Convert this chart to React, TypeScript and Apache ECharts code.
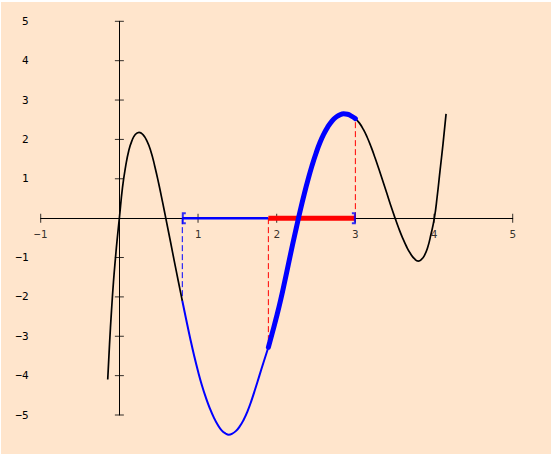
import React, { useEffect, useRef } from 'react';
import * as echarts from 'echarts';

// Points (x, y)
const curveX = [
  -0.148, -0.125, -0.1, -0.075, -0.05, -0.025, 0, 0.04, 0.08, 0.12, 0.16, 0.2, 0.25, 0.3, 0.35, 0.4,
  0.45, 0.5, 0.55, 0.59, 0.65, 0.7, 0.75, 0.8,
  0.85, 0.9, 0.95, 1.0, 1.05, 1.1, 1.15, 1.2, 1.25, 1.3, 1.35, 1.39, 1.43, 1.48, 1.53, 1.58, 1.63,
  1.68, 1.73, 1.78, 1.83, 1.894,
  1.95, 2.0, 2.05, 2.1, 2.15, 2.2, 2.25, 2.3, 2.35, 2.4, 2.45, 2.5, 2.55, 2.6, 2.65, 2.7, 2.75, 2.8,
  2.85, 2.9, 2.95, 3.0,
  3.05, 3.1, 3.15, 3.2, 3.25, 3.3, 3.35, 3.4, 3.45, 3.505, 3.55, 3.6, 3.65, 3.7, 3.75, 3.8, 3.84,
  3.88, 3.92, 3.96, 4.004, 4.04, 4.077, 4.115, 4.153,
];
const curveY = [
  -4.1, -3.2, -2.35, -1.62, -1.02, -0.48, 0, 0.78, 1.32, 1.72, 1.97, 2.12, 2.18, 2.12, 1.96, 1.7,
  1.32, 0.88, 0.4, 0, -0.6, -1.11, -1.61, -2.1,
  -2.58, -3.05, -3.49, -3.89, -4.25, -4.56, -4.83, -5.06, -5.25, -5.39, -5.47, -5.5, -5.48, -5.41, -5.29, -5.12, -4.9,
  -4.63, -4.32, -4.0, -3.68, -3.28,
  -2.87, -2.49, -2.08, -1.63, -1.16, -0.69, -0.24, 0.2, 0.61, 0.99, 1.34, 1.65, 1.92, 2.14, 2.32, 2.46, 2.56, 2.62,
  2.65, 2.64, 2.59, 2.53,
  2.42, 2.26, 2.055, 1.81, 1.535, 1.24, 0.935, 0.63, 0.32, 0, -0.25, -0.5, -0.72, -0.9, -1.03, -1.09, -1.05,
  -0.94, -0.74, -0.42, 0, 0.55, 1.22, 1.9, 2.65,
];

const intervalStart = 0.8;
const intervalSplit = 1.894;
const intervalEnd = 3.0;
const curveAtStart = -2.1;
const curveAtSplit = -3.28;
const curveAtEnd = 2.53;

const xTicks = [-1, 1, 2, 3, 4, 5];
const xTickLabels = ['−1', '1', '2', '3', '4', '5'];
const yTicks = [-5, -4, -3, -2, -1, 1, 2, 3, 4, 5];
const yTickLabels = ['−5', '−4', '−3', '−2', '−1', '1', '2', '3', '4', '5'];

const FONT = '"DejaVu Sans Mono", monospace';

export default function App() {
  const ref = useRef<HTMLDivElement>(null);

  useEffect(() => {
    if (!ref.current) return;
    const chart = echarts.init(ref.current, null, { renderer: 'svg' });
    const pts = curveX.map((x, i) => [x, curveY[i]]);
    const black1 = pts.filter((p) => p[0] <= intervalStart);
    const blueThin = pts.filter((p) => p[0] >= intervalStart && p[0] <= intervalSplit);
    const blueThick = pts.filter((p) => p[0] >= intervalSplit && p[0] <= intervalEnd);
    const black2 = pts.filter((p) => p[0] >= intervalEnd);

    const lineBase = { type: 'line', showSymbol: false, symbol: 'none', silent: true, clip: false };
    const SM = 0.5;

    chart.setOption({
      animation: false,
      backgroundColor: '#ffffff',
      graphic: [
        {
          type: 'rect',
          left: 1,
          top: 2,
          shape: { width: 550, height: 452 },
          style: { fill: '#FFE5CC' },
          z: -10,
          silent: true,
        },
      ],
      grid: {
        left: 40.7,
        right: 42.3,
        top: 21.3,
        bottom: 42,
        containLabel: false,
        outerBoundsMode: 'none',
      },
      xAxis: {
        type: 'value',
        min: -1,
        max: 5,
        interval: 1,
        axisLine: { show: true, onZero: true, lineStyle: { color: '#000', width: 1 } },
        axisTick: { show: false },
        splitLine: { show: false },
        axisLabel: { show: false },
      },
      yAxis: {
        type: 'value',
        min: -5,
        max: 5,
        interval: 1,
        axisLine: { show: true, onZero: true, lineStyle: { color: '#000', width: 1 } },
        axisTick: { show: false },
        splitLine: { show: false },
        axisLabel: {
          show: true,
          margin: 12,
          color: '#000',
          fontSize: 11,
          fontFamily: FONT,
          showMinLabel: true,
          showMaxLabel: true,
          formatter: (v: number) => {
            const i = yTicks.indexOf(Math.round(v));
            return i >= 0 ? yTickLabels[i] : '';
          },
        },
      },
      series: [
        {
          type: 'scatter',
          silent: true,
          symbol: 'rect',
          symbolSize: [1, 9],
          itemStyle: { color: '#000' },
          data: xTicks.map((v) => [v, 0]),
          label: {
            show: true,
            position: 'bottom',
            distance: 6,
            color: '#000',
            fontSize: 11,
            fontFamily: FONT,
            formatter: (p: any) => xTickLabels[p.dataIndex],
          },
          z: 1,
        },
        {
          type: 'scatter',
          silent: true,
          symbol: 'rect',
          symbolSize: [9, 1],
          itemStyle: { color: '#000' },
          data: yTicks.map((v) => [0, v]),
          z: 1,
        },
        {
          ...lineBase,
          data: [[intervalStart, 0], [intervalStart, curveAtStart]],
          lineStyle: { color: '#0000FF', width: 1, type: [6, 3] },
          z: 2,
        },
        {
          ...lineBase,
          data: [[intervalSplit, 0], [intervalSplit, curveAtSplit]],
          lineStyle: { color: '#FF0000', width: 1, type: [6, 3] },
          z: 2,
        },
        {
          ...lineBase,
          data: [[intervalEnd, 0], [intervalEnd, curveAtEnd]],
          lineStyle: { color: '#FF0000', width: 1, type: [6, 3] },
          z: 2,
        },
        {
          ...lineBase,
          data: [[intervalStart, 0], [intervalSplit, 0]],
          lineStyle: { color: '#0000FF', width: 2.5 },
          z: 3,
        },
        {
          ...lineBase,
          data: [[intervalSplit, 0], [intervalEnd, 0]],
          lineStyle: { color: '#FF0000', width: 5, cap: 'butt' },
          z: 3,
        },
        {
          ...lineBase,
          data: black1,
          smooth: SM,
          lineStyle: { color: '#000', width: 1.7 },
          z: 4,
        },
        {
          ...lineBase,
          data: black2,
          smooth: SM,
          lineStyle: { color: '#000', width: 1.7 },
          z: 4,
        },
        {
          ...lineBase,
          data: blueThin,
          smooth: SM,
          lineStyle: { color: '#0000FF', width: 2 },
          z: 4,
        },
        {
          ...lineBase,
          data: blueThick,
          smooth: SM,
          lineStyle: { color: '#0000FF', width: 5, cap: 'round' },
          z: 5,
        },
        {
          type: 'scatter',
          silent: true,
          symbol: 'path://M0 0H4V2H2V10H4V12H0Z',
          symbolSize: [4, 12],
          symbolKeepAspect: false,
          symbolOffset: [1.5, 0],
          itemStyle: { color: '#0000FF' },
          data: [[intervalStart, 0]],
          z: 6,
        },
        {
          type: 'scatter',
          silent: true,
          symbol: 'path://M0 0H4V12H0V10H2V2H0Z',
          symbolSize: [4, 12],
          symbolKeepAspect: false,
          symbolOffset: [-1.5, 0],
          itemStyle: { color: '#0000FF' },
          data: [[intervalEnd, 0]],
          z: 6,
        },
      ],
    });
    return () => chart.dispose();
  }, []);

  return (
    <div
      ref={ref}
      style={{ position: 'fixed', left: 0, top: 0, width: 555, height: 457 }}
    />
  );
}
